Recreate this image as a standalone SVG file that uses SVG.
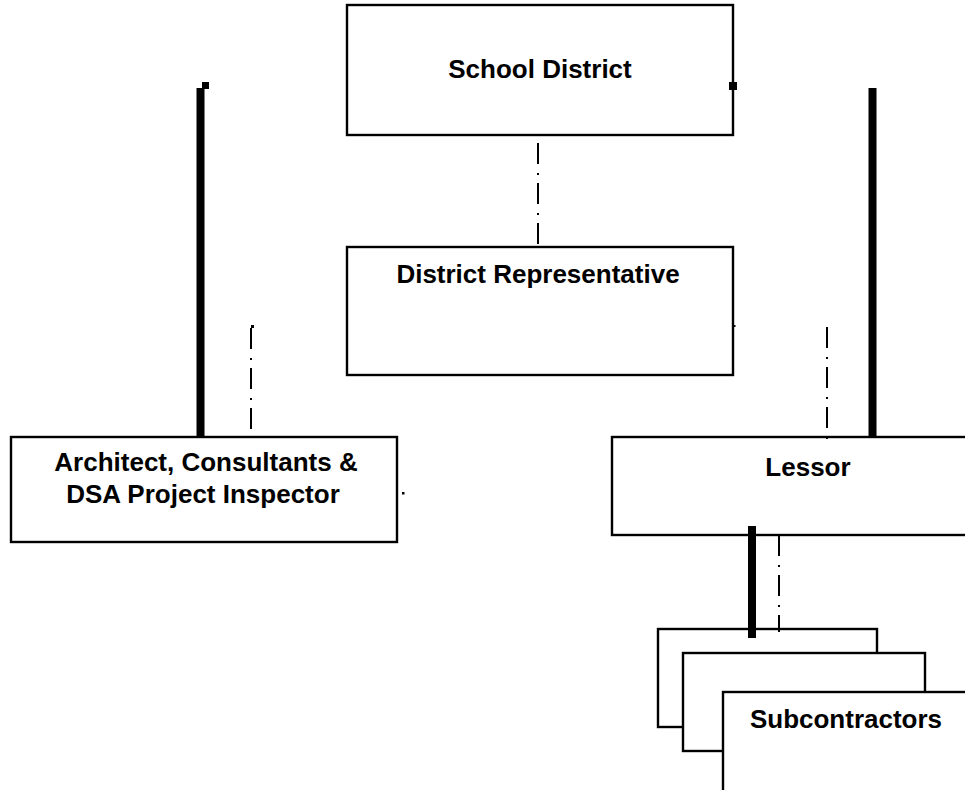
<svg xmlns="http://www.w3.org/2000/svg" width="965" height="790" viewBox="0 0 965 790">
<style>
.box{fill:#fff;stroke:#000;stroke-width:2.4}
.lbl{font-family:"Liberation Sans",Arial,sans-serif;font-weight:bold;font-size:26px;fill:#000;text-anchor:middle}
.thick{stroke:#000;stroke-width:8;fill:none}
.dd{stroke:#000;stroke-width:2;fill:none;stroke-dasharray:21 9 2 8}
</style>
<rect width="965" height="790" fill="#fff"/>
<g id="school-district">
<rect class="box" x="347" y="5" width="386" height="130"/>
<text class="lbl" x="540" y="78">School District</text>
</g>
<g id="district-representative">
<rect class="box" x="347" y="247" width="386" height="128"/>
<text class="lbl" x="538" y="283">District Representative</text>
</g>
<g id="architect">
<rect class="box" x="11" y="437" width="386" height="105"/>
<text class="lbl" x="206" y="471">Architect, Consultants &amp;</text>
<text class="lbl" x="203" y="503">DSA Project Inspector</text>
</g>
<g id="lessor">
<rect class="box" x="612" y="437" width="400" height="98"/>
<text class="lbl" x="808" y="476">Lessor</text>
</g>
<g id="subcontractors">
<rect class="box" x="658" y="629" width="219" height="98"/>
<rect class="box" x="683" y="653" width="242" height="98"/>
<rect class="box" x="723" y="692" width="300" height="150"/>
<text class="lbl" x="846" y="728">Subcontractors</text>
</g>
<g id="connectors">
<line class="thick" x1="200.5" y1="88" x2="200.5" y2="437"/>
<rect x="202" y="82" width="7" height="7" fill="#000"/>
<rect x="729" y="82" width="8" height="8" fill="#000"/>
<line class="thick" x1="872.5" y1="88" x2="872.5" y2="438"/>
<line class="dd" x1="538" y1="143" x2="538" y2="247"/>
<line class="dd" x1="251" y1="328" x2="251" y2="430"/>
<rect x="251" y="325" width="3" height="3" fill="#000"/>
<line class="dd" x1="827" y1="327" x2="827" y2="440"/>
<line class="thick" x1="752" y1="526" x2="752" y2="638"/>
<line class="dd" x1="779" y1="535" x2="779" y2="632"/>
<rect x="402" y="492" width="2.5" height="2.5" fill="#000"/>
<rect x="733" y="325" width="2.5" height="2" fill="#000"/>
</g>
</svg>
